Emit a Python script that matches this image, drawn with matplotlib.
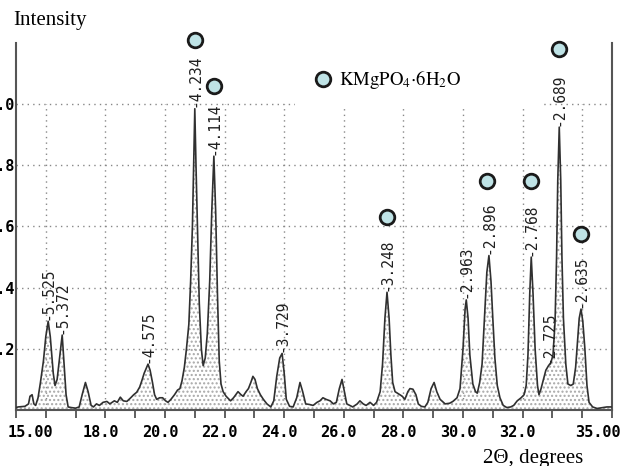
import numpy as np
import matplotlib
matplotlib.use("Agg")
import matplotlib.pyplot as plt
import matplotlib.transforms as mtransforms
from matplotlib.patches import Rectangle

# pattern (2theta, relative intensity)
two_theta = [15.00, 15.07, 15.30, 15.42, 15.47, 15.54, 15.60, 15.66, 15.74, 15.82, 15.92, 16.00, 16.08, 16.15, 16.25,
             16.31, 16.38, 16.45, 16.55, 16.62, 16.68, 16.75, 16.85, 17.00, 17.12, 17.22, 17.33, 17.42, 17.52, 17.60,
             17.70, 17.80, 17.92, 18.05, 18.15, 18.30, 18.40, 18.50, 18.60, 18.72, 18.85, 18.95, 19.05, 19.15, 19.22,
             19.30, 19.43, 19.50, 19.58, 19.65, 19.72, 19.82, 19.92, 20.02, 20.10, 20.20, 20.32, 20.42, 20.50, 20.57,
             20.65, 20.72, 20.80, 20.86, 20.92, 20.96, 21.00, 21.04, 21.09, 21.15, 21.22, 21.28, 21.35, 21.42, 21.50,
             21.57, 21.64, 21.70, 21.76, 21.82, 21.88, 21.95, 22.05, 22.20, 22.30, 22.45, 22.55, 22.62, 22.72, 22.80,
             22.88, 22.95, 23.02, 23.10, 23.20, 23.30, 23.42, 23.55, 23.65, 23.75, 23.85, 23.93, 24.00, 24.07, 24.18,
             24.30, 24.42, 24.53, 24.62, 24.72, 24.85, 24.97, 25.10, 25.20, 25.30, 25.40, 25.54, 25.65, 25.75, 25.85,
             25.94, 26.02, 26.10, 26.30, 26.45, 26.54, 26.65, 26.75, 26.88, 27.00, 27.10, 27.22, 27.30, 27.38, 27.45,
             27.52, 27.58, 27.64, 27.72, 27.80, 27.88, 27.96, 28.05, 28.15, 28.22, 28.32, 28.42, 28.50, 28.60, 28.72,
             28.82, 28.93, 29.03, 29.12, 29.23, 29.40, 29.55, 29.66, 29.80, 29.90, 30.00, 30.07, 30.11, 30.17, 30.23,
             30.33, 30.42, 30.48, 30.56, 30.64, 30.72, 30.80, 30.87, 30.94, 31.00, 31.07, 31.15, 31.24, 31.35, 31.47,
             31.60, 31.70, 31.82, 31.95, 32.05, 32.12, 32.18, 32.24, 32.29, 32.35, 32.42, 32.50, 32.55, 32.62, 32.70,
             32.78, 32.87, 32.95, 33.02, 33.09, 33.14, 33.18, 33.23, 33.28, 33.32, 33.37, 33.45, 33.52, 33.62, 33.70,
             33.78, 33.84, 33.90, 33.96, 34.02, 34.09, 34.16, 34.23, 34.35, 34.50, 34.70, 34.83, 35.00]
intensity = [0.008, 0.010, 0.012, 0.020, 0.045, 0.050, 0.020, 0.015, 0.040, 0.090, 0.160, 0.240, 0.290, 0.240, 0.120,
             0.080, 0.100, 0.160, 0.245, 0.140, 0.050, 0.010, 0.008, 0.006, 0.010, 0.050, 0.090, 0.060, 0.015, 0.010,
             0.020, 0.015, 0.025, 0.028, 0.020, 0.030, 0.025, 0.042, 0.030, 0.028, 0.040, 0.050, 0.058, 0.075, 0.095,
             0.120, 0.150, 0.130, 0.090, 0.050, 0.035, 0.040, 0.040, 0.030, 0.025, 0.035, 0.050, 0.065, 0.070, 0.095,
             0.140, 0.200, 0.280, 0.420, 0.600, 0.800, 0.985, 0.800, 0.600, 0.350, 0.200, 0.145, 0.170, 0.250, 0.420,
             0.650, 0.830, 0.650, 0.380, 0.160, 0.085, 0.060, 0.045, 0.030, 0.040, 0.060, 0.050, 0.045, 0.060, 0.070,
             0.090, 0.110, 0.100, 0.070, 0.050, 0.035, 0.020, 0.010, 0.030, 0.110, 0.170, 0.185, 0.120, 0.035, 0.012,
             0.010, 0.040, 0.090, 0.060, 0.020, 0.018, 0.015, 0.025, 0.030, 0.040, 0.035, 0.030, 0.020, 0.025, 0.070,
             0.100, 0.060, 0.020, 0.010, 0.020, 0.030, 0.020, 0.015, 0.025, 0.015, 0.025, 0.060, 0.150, 0.300, 0.385,
             0.300, 0.180, 0.090, 0.060, 0.055, 0.050, 0.045, 0.035, 0.060, 0.070, 0.068, 0.050, 0.020, 0.012, 0.010,
             0.025, 0.070, 0.090, 0.060, 0.035, 0.020, 0.022, 0.028, 0.040, 0.070, 0.200, 0.330, 0.360, 0.300, 0.180,
             0.085, 0.060, 0.055, 0.090, 0.150, 0.300, 0.450, 0.505, 0.420, 0.300, 0.170, 0.080, 0.040, 0.015, 0.008,
             0.010, 0.015, 0.030, 0.040, 0.050, 0.080, 0.180, 0.380, 0.500, 0.380, 0.200, 0.080, 0.050, 0.070, 0.100,
             0.130, 0.145, 0.155, 0.180, 0.290, 0.500, 0.750, 0.925, 0.750, 0.500, 0.300, 0.150, 0.085, 0.080, 0.085,
             0.140, 0.220, 0.300, 0.330, 0.290, 0.200, 0.080, 0.025, 0.010, 0.005, 0.008, 0.010, 0.010]

# d-spacing labels at the peaks
peak_theta = [16.08, 16.55, 19.43, 21.00, 21.64, 23.93, 27.45, 30.11, 30.87, 32.29, 32.87, 33.23, 33.96]
peak_int = [0.29, 0.245, 0.15, 0.985, 0.83, 0.185, 0.385, 0.36, 0.505, 0.50, 0.145, 0.925, 0.33]
peak_d = ["5.525", "5.372", "4.575", "4.234", "4.114", "3.729", "3.248", "2.963", "2.896", "2.768", "2.725",
          "2.689", "2.635"]

# KMgPO4.6H2O markers
mark_theta = [21.00, 21.64, 27.45, 30.80, 32.28, 33.22, 33.96]
mark_y = [1.21, 1.06, 0.63, 0.75, 0.75, 1.18, 0.575]

xticks = list(range(15, 36))
xtick_labels = {15: "15.00", 18: "18.0", 20: "20.0", 22: "22.0", 24: "24.0", 26: "26.0",
                28: "28.0", 30: "30.0", 32: "32.0", 35: "35.00"}
yticks = [0.2, 0.4, 0.6, 0.8, 1.0]
grid_x = [16, 18, 20, 22, 24, 26, 28, 30, 32, 34]

plt.rcParams['mathtext.fontset'] = 'stix'
fig = plt.figure(figsize=(6.24, 4.66), dpi=100)
ax = fig.add_axes([16/624, 1-410/466, (612-16)/624, (410-43)/466])
ax.set_xlim(15, 35)
ax.set_ylim(0, 1.2)

dot = dict(color='#888888', lw=1.0, linestyle=(0, (1, 3)), zorder=1)
ax.vlines(grid_x, 0, 1.0, **dot)
ax.hlines(yticks, 15, 35, **dot)

# white legend box over the grid
ax.add_patch(Rectangle((24.36, 0.99), 32.72-24.36, 0.22, facecolor='white', edgecolor='none', zorder=2))

ax.fill_between(two_theta, 0, intensity, facecolor='none', edgecolor='#a8a8a8', hatch='....', linewidth=0, zorder=2)
ax.plot(two_theta, intensity, color='#303030', lw=1.2, zorder=3)

mono = 'DejaVu Sans Mono'
for t, i, d in zip(peak_theta, peak_int, peak_d):
  ax.text(t, i + 0.005, "-" + d, rotation=90, ha='center', va='bottom', family=mono, fontsize=10.5,
          color='#202020', zorder=4)

ax.plot(mark_theta, mark_y, 'o', ms=10.5, mfc='#bfe3e6', mec='#1a1a1a', mew=2, clip_on=False, zorder=5)
ax.plot([25.3], [1.082], 'o', ms=10.5, mfc='#bfe3e6', mec='#1a1a1a', mew=2, clip_on=False, zorder=5)
ax.text(25.85, 1.082, r"$\mathrm{KMgPO_4{\cdot}6H_2O}$", fontsize=13.5, va='center', ha='left', zorder=5)

ax.set_xticks(xticks)
ax.set_xticklabels([xtick_labels.get(x, "") for x in xticks], family=mono, fontweight='bold', fontsize=11)
ax.set_yticks(yticks)
ax.set_yticklabels(["%.1f" % y for y in yticks], family=mono, fontweight='bold', fontsize=11)
ax.tick_params(axis='x', direction='out', length=6, width=1.2, color='#444444', pad=5)
ax.tick_params(axis='y', length=0, pad=1)

# the end labels sit inside the frame, the rest a bit left of their tick
for x, lab in zip(xticks, ax.get_xticklabels()):
  dx = 14 if x == 15 else (-14 if x == 35 else -5)
  lab.set_transform(lab.get_transform() + mtransforms.ScaledTranslation(dx/100, 0, fig.dpi_scale_trans))

ax.spines['top'].set_visible(False)
for s in ['left', 'right', 'bottom']:
  ax.spines[s].set_color('#555555')
  ax.spines[s].set_linewidth(1.5)

fig.text(13/624, 1-20/466, "Intensity", family='Liberation Serif', fontsize=15, va='center', ha='left')
fig.text(583/624, 1-458/466, "2\u0398, degrees", family='Liberation Serif', fontsize=15, va='center', ha='right')

fig.savefig("out.png", dpi=100)
